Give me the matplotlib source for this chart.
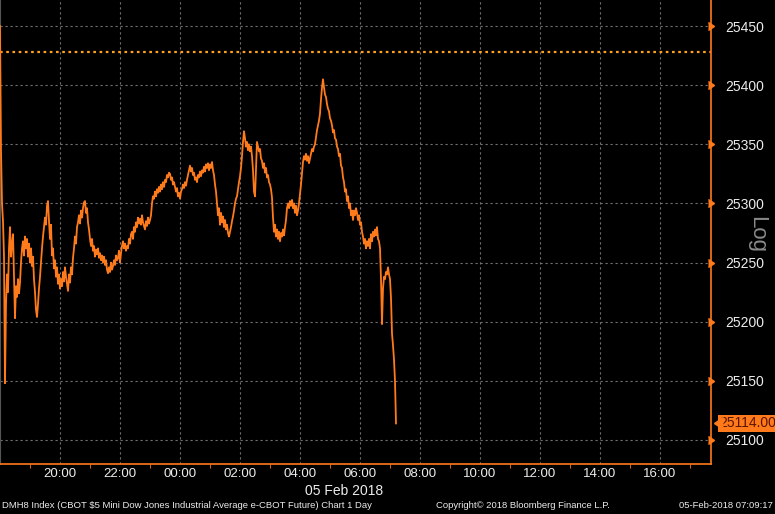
import numpy as np
import matplotlib
matplotlib.use('Agg')
import matplotlib.pyplot as plt
import matplotlib.transforms as mtrans

# DMH8 price, one value every 2 minutes starting 18:00 (04 Feb 2018)
prices = [
    25450, 25345, 25300, 25285, 25255, 25148, 25215, 25240, 25225, 25262,
    25280, 25255, 25266, 25274, 25238, 25203, 25230, 25221, 25236, 25224,
    25233, 25250, 25262, 25268, 25256, 25272, 25262, 25270, 25255, 25266,
    25250, 25262, 25247, 25255, 25236, 25225, 25210, 25204, 25215, 25228,
    25238, 25250, 25262, 25272, 25280, 25288, 25282, 25298, 25302, 25285,
    25270, 25282, 25256, 25262, 25245, 25252, 25238, 25246, 25232, 25240,
    25228, 25236, 25230, 25242, 25234, 25246, 25238, 25232, 25226, 25240,
    25233, 25246, 25240, 25254, 25262, 25272, 25266, 25280, 25284, 25290,
    25283, 25294, 25288, 25296, 25301, 25302, 25292, 25296, 25284, 25278,
    25270, 25264, 25270, 25260, 25264, 25255, 25261, 25257, 25262, 25254,
    25258, 25252, 25256, 25250, 25255, 25248, 25252, 25244, 25241, 25246,
    25242, 25250, 25244, 25247, 25252, 25248, 25256, 25252, 25254, 25260,
    25250, 25258, 25264, 25268, 25262, 25266, 25260, 25264, 25262, 25270,
    25266, 25274, 25276, 25270, 25280, 25276, 25284, 25280, 25288, 25283,
    25287, 25282, 25290, 25284, 25281, 25278, 25285, 25281, 25288, 25283,
    25286, 25290, 25300, 25306, 25304, 25310, 25306, 25312, 25309, 25314,
    25310, 25316, 25312, 25318, 25314, 25320, 25318, 25324, 25322, 25326,
    25325, 25320, 25322, 25316, 25318, 25314, 25310, 25313, 25306, 25309,
    25304, 25310, 25312, 25316, 25313, 25318, 25315, 25320, 25324, 25328,
    25332, 25327, 25330, 25324, 25326, 25320, 25322, 25318, 25324, 25322,
    25327, 25323, 25328, 25326, 25331, 25327, 25333, 25330, 25334, 25328,
    25333, 25330, 25335, 25328, 25324, 25316, 25310, 25300, 25290, 25296,
    25282, 25292, 25284, 25289, 25280, 25286, 25278, 25282, 25275, 25272,
    25276, 25280, 25285, 25289, 25294, 25300, 25304, 25306, 25312, 25318,
    25323, 25330, 25340, 25352, 25361, 25355, 25348, 25352, 25345, 25350,
    25344, 25348, 25340, 25328, 25310, 25306, 25330, 25352, 25348, 25344,
    25346, 25338, 25336, 25330, 25334, 25326, 25330, 25322, 25324, 25318,
    25316, 25312, 25305, 25288, 25276, 25282, 25272, 25278, 25270, 25276,
    25268, 25275, 25272, 25278, 25273, 25280, 25286, 25296, 25300, 25296,
    25302, 25298, 25303, 25296, 25300, 25292, 25298, 25290, 25294, 25300,
    25308, 25316, 25326, 25335, 25340, 25337, 25342, 25336, 25340, 25334,
    25338, 25342, 25346, 25344, 25348, 25350, 25356, 25362, 25366, 25370,
    25376, 25388, 25398, 25405, 25398, 25392, 25390, 25384, 25380, 25378,
    25372, 25370, 25366, 25360, 25362, 25355, 25354, 25348, 25346, 25340,
    25342, 25332, 25330, 25322, 25318, 25310, 25312, 25302, 25306, 25296,
    25300, 25290, 25294, 25286, 25294, 25290, 25296, 25292, 25286, 25290,
    25282, 25284, 25276, 25272, 25266, 25270, 25262, 25268, 25264, 25270,
    25262, 25274, 25268, 25276, 25272, 25278, 25273, 25280, 25270, 25268,
    25262, 25236, 25198, 25228, 25238, 25236, 25242, 25240, 25246, 25240,
    25236, 25220, 25190, 25180, 25168, 25150, 25114,
]
minutes = np.arange(len(prices)) * 2
hours = minutes / 60.0          # hours since 18:00

ref_level = 25428
last_price = 25114

y_ticks = [25100, 25150, 25200, 25250, 25300, 25350, 25400, 25450]
x_ticks = [2, 4, 6, 8, 10, 12, 14, 16, 18, 20, 22]
x_labels = ["20:00", "22:00", "00:00", "02:00", "04:00", "06:00",
            "08:00", "10:00", "12:00", "14:00", "16:00"]

ORANGE = '#ff7a1a'
GRID = '#707070'
TXT = '#ececec'

plt.rcParams['font.family'] = ['Liberation Sans', 'DejaVu Sans']

fig = plt.figure(figsize=(7.75, 5.14), dpi=100, facecolor='black')
ax = fig.add_axes([0.0, 50 / 514, 711 / 775, 464 / 514], facecolor='black')

ax.plot(hours, prices, color=ORANGE, lw=1.3, zorder=3)
ax.axhline(ref_level, color='#ff9f1c', lw=1.6, ls=(0, (1.2, 1.6)), zorder=2)

ax.set_xlim(0, 711 / 30)
ax.set_ylim(25079.7, 25472.0)

ax.set_xticks(x_ticks)
ax.set_xticklabels(x_labels)
ax.set_xticks(np.arange(1, 24), minor=True)
ax.yaxis.tick_right()
ax.set_yticks(y_ticks)
ax.set_yticklabels([str(v) for v in y_ticks])

ax.grid(True, which='major', color=GRID, lw=0.8, ls=(0, (2, 2.5)))
ax.tick_params(axis='x', which='major', length=0, colors=TXT, labelsize=9.5, pad=3)
ax.tick_params(axis='x', which='minor', length=3, color=ORANGE, direction='out')
ax.tick_params(axis='y', length=0, colors=TXT, labelsize=10, pad=10)

for side in ['right', 'bottom']:
    ax.spines[side].set_color(ORANGE)
    ax.spines[side].set_linewidth(1.2)
ax.spines['top'].set_visible(False)
ax.spines['left'].set_color('#555555')
ax.spines['left'].set_linewidth(0.8)

# small orange pointers at the price axis
trans = mtrans.blended_transform_factory(ax.transAxes, ax.transData)
ax.plot([1.004] * len(y_ticks), y_ticks, ls='none', marker=5, ms=6,
        color=ORANGE, transform=trans, clip_on=False, zorder=5)

# last price tag
ax.plot([1.0045], [last_price], ls='none', marker=4, ms=9, color=ORANGE,
        transform=trans, clip_on=False, zorder=5)
ax.text(1.012, last_price, f"{last_price:.2f}", transform=trans, ha='left',
        va='center', fontsize=10, color='#5a1400', clip_on=False,
        bbox=dict(boxstyle='square,pad=0.12', fc=ORANGE, ec='none'))

fig.text(757 / 775, 1 - 235 / 514, "Log", rotation=270, ha='center',
         va='center', fontsize=16, color='#8a8a8a')

fig.text(383 / 775, 1 - 491 / 514, "05 Feb 2018", ha='right', va='center',
         fontsize=10, color=TXT)

fig.text(2 / 775, 1 - 506 / 514,
         "DMH8 Index (CBOT $5 Mini Dow Jones Industrial Average e-CBOT Future) Chart 1 Day",
         ha='left', va='center', fontsize=6.8, color=TXT)
fig.text(523 / 775, 1 - 506 / 514, "Copyright\u00a9 2018 Bloomberg Finance L.P.",
         ha='center', va='center', fontsize=6.8, color=TXT)
fig.text(773 / 775, 1 - 506 / 514, "05-Feb-2018 07:09:17", ha='right',
         va='center', fontsize=6.8, color=TXT)

fig.savefig('out.png', dpi=100, facecolor='black')
